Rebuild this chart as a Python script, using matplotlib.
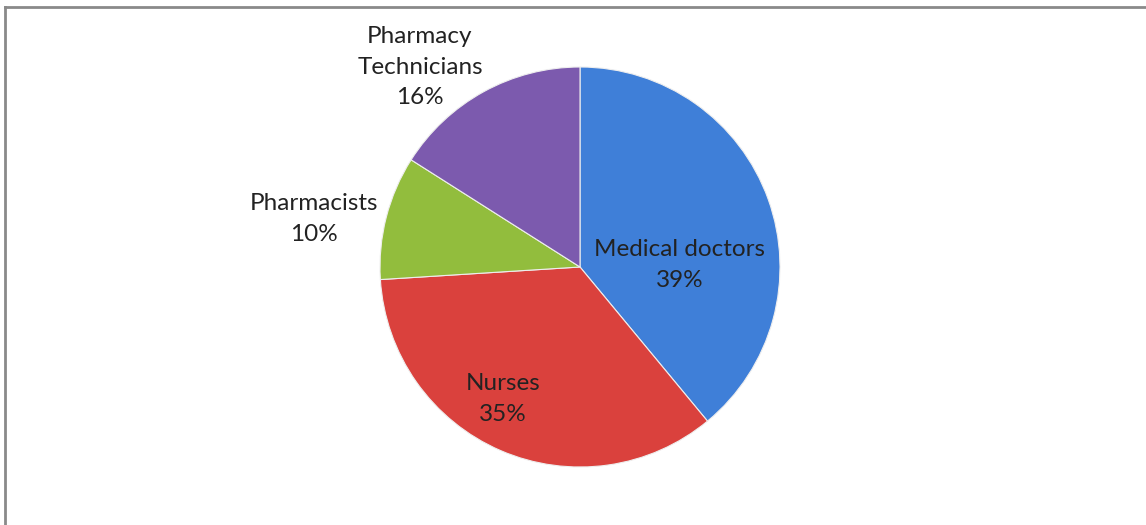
import matplotlib.pyplot as plt
from matplotlib.lines import Line2D

# Share of health workforce by profession
professions = ['Medical doctors', 'Nurses', 'Pharmacists', 'Pharmacy\nTechnicians']
shares = [39, 35, 10, 16]
colors = ['#3f7fd8', '#da413d', '#92bd3d', '#7c5aae']

# where each label block sits, in pie units (radius = 1)
label_xy = [(0.50, 0.01), (-0.385, -0.66), (-1.33, 0.24), (-0.80, 1.0)]

plt.rcParams['font.family'] = ['Lato', 'DejaVu Sans']

fig = plt.figure(figsize=(11.46, 5.25), dpi=100)
ax = fig.add_axes([0, 0, 1, 1])

wedges, _ = ax.pie(shares, colors=colors, startangle=90, counterclock=False,
                   radius=1.0, center=(0, 0),
                   wedgeprops=dict(edgecolor='#eeeeee', linewidth=0.8))

for name, val, (x, y) in zip(professions, shares, label_xy):
    ax.text(x, y, f'{name}\n{val}%', ha='center', va='center',
            fontsize=17.5, color='#222222', linespacing=1.55)

# pie centre at (580, 267) px with 200 px radius
ax.set_xlim(-580 / 200, (1146 - 580) / 200)
ax.set_ylim(-(525 - 267) / 200, 267 / 200)
ax.set_aspect('auto')
ax.axis('off')

# grey frame along the top and left
fig.add_artist(Line2D([5 / 1146, 1], [1 - 7 / 525, 1 - 7 / 525],
                      transform=fig.transFigure, color='#8a8a8a', linewidth=2))
fig.add_artist(Line2D([5 / 1146, 5 / 1146], [0, 1 - 7 / 525],
                      transform=fig.transFigure, color='#8a8a8a', linewidth=2))

fig.savefig('out.png', dpi=100)
